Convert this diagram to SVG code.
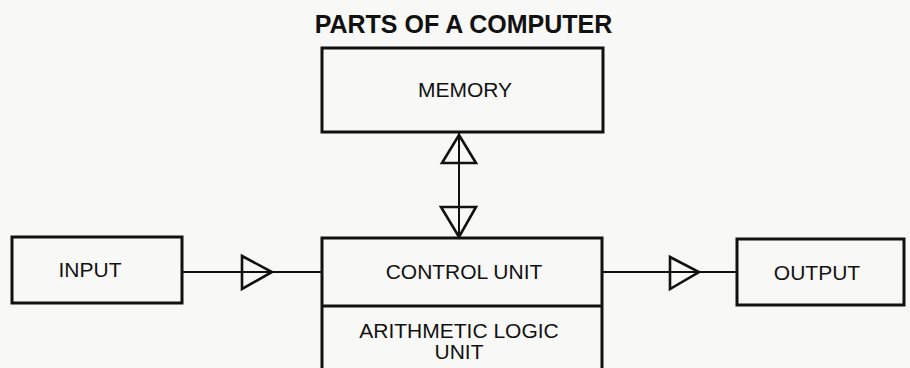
<svg xmlns="http://www.w3.org/2000/svg" width="910" height="368" viewBox="0 0 910 368">
<style>
.box{fill:none;stroke:#111;stroke-width:3}
.lbl{font-family:"Liberation Sans",Arial,sans-serif;font-size:21px;fill:#111;text-anchor:middle}
.title{font-family:"Liberation Sans",Arial,sans-serif;font-size:25px;font-weight:bold;fill:#111;text-anchor:middle}
.ln{stroke:#111;stroke-width:2;fill:none}
.tri{fill:none;stroke:#111;stroke-width:2.6;stroke-linejoin:miter}
</style>
<rect width="910" height="368" fill="#f8f8f6"/>
<text class="title" x="463.5" y="33">PARTS OF A COMPUTER</text>
<g id="memory">
<rect class="box" x="322" y="48" width="281" height="84"/>
<text class="lbl" x="465" y="97">MEMORY</text>
</g>
<g id="input">
<rect class="box" x="12" y="237" width="170" height="66"/>
<text class="lbl" x="90" y="277">INPUT</text>
</g>
<g id="cpu">
<rect class="box" x="322" y="238" width="280" height="140"/>
<line class="box" x1="322" y1="306" x2="602" y2="306"/>
<text class="lbl" x="464" y="279">CONTROL UNIT</text>
<text class="lbl" x="459" y="338">ARITHMETIC LOGIC</text>
<text class="lbl" x="459" y="359">UNIT</text>
</g>
<g id="output">
<rect class="box" x="737" y="239" width="167" height="66"/>
<text class="lbl" x="817" y="280">OUTPUT</text>
</g>
<g id="connectors">
<line class="ln" x1="182" y1="272" x2="322" y2="272"/>
<polygon class="tri" points="242,256 272,272 242,289"/>
<line class="ln" x1="602" y1="272" x2="737" y2="272"/>
<polygon class="tri" points="670,257 699,272 670,289"/>
<line class="ln" x1="459" y1="133" x2="459" y2="237"/>
<polygon class="tri" points="459,135 476,163 442,163"/>
<polygon class="tri" points="441,207 476,207 459,237"/>
</g>
</svg>
